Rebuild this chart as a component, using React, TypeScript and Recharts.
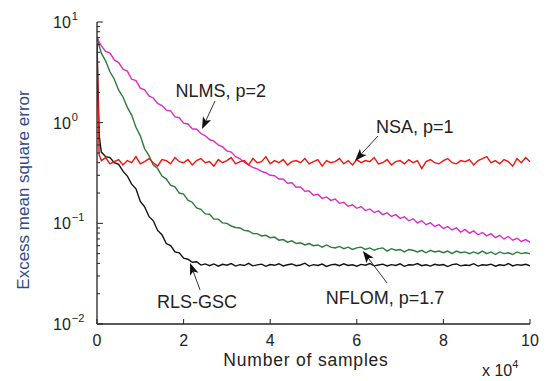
import React from 'react';
import { LineChart, Line, XAxis, YAxis, ReferenceLine, ReferenceDot } from 'recharts';

// x in units of 10^4 samples
const samples = [
  0, 0.05,
  0.1, 0.2, 0.3, 0.4, 0.5, 0.6, 0.7, 0.8, 0.9, 1,
  1.1, 1.2, 1.3, 1.4, 1.5, 1.6, 1.7, 1.8, 1.9, 2,
  2.1, 2.2, 2.3, 2.4, 2.5, 2.6, 2.7, 2.8, 2.9, 3,
  3.1, 3.2, 3.3, 3.4, 3.5, 3.6, 3.7, 3.8, 3.9, 4,
  4.1, 4.2, 4.3, 4.4, 4.5, 4.6, 4.7, 4.8, 4.9, 5,
  5.1, 5.2, 5.3, 5.4, 5.5, 5.6, 5.7, 5.8, 5.9, 6,
  6.1, 6.2, 6.3, 6.4, 6.5, 6.6, 6.7, 6.8, 6.9, 7,
  7.1, 7.2, 7.3, 7.4, 7.5, 7.6, 7.7, 7.8, 7.9, 8,
  8.1, 8.2, 8.3, 8.4, 8.5, 8.6, 8.7, 8.8, 8.9, 9,
  9.1, 9.2, 9.3, 9.4, 9.5, 9.6, 9.7, 9.8, 9.9, 10,
];

const nlms = [
  7.1, 6.3,
  5.8, 5.1, 4.9, 4.2, 3.95, 3.4, 3.25, 2.7, 2.62, 2.2,
  2.12, 1.84, 1.76, 1.55, 1.48, 1.33, 1.31, 1.14, 1.12, 0.99,
  0.97, 0.87, 0.86, 0.78, 0.74, 0.68, 0.655, 0.6, 0.575, 0.525,
  0.51, 0.46, 0.44, 0.405, 0.38, 0.36, 0.348, 0.328, 0.318, 0.3,
  0.297, 0.276, 0.276, 0.25, 0.253, 0.228, 0.23, 0.208, 0.21, 0.19,
  0.194, 0.177, 0.183, 0.169, 0.174, 0.158, 0.162, 0.148, 0.153, 0.141,
  0.147, 0.134, 0.139, 0.128, 0.133, 0.122, 0.127, 0.117, 0.122, 0.112,
  0.116, 0.106, 0.111, 0.101, 0.106, 0.097, 0.101, 0.093, 0.097, 0.089,
  0.093, 0.086, 0.09, 0.082, 0.087, 0.08, 0.084, 0.077, 0.081, 0.075,
  0.079, 0.072, 0.076, 0.07, 0.074, 0.068, 0.071, 0.066, 0.069, 0.065,
];

const nsa = [
  5.5, 0.48,
  0.42, 0.45, 0.39, 0.41, 0.43, 0.38, 0.42, 0.40, 0.46, 0.39,
  0.41, 0.44, 0.40, 0.37, 0.43, 0.42, 0.39, 0.45, 0.41, 0.40,
  0.43, 0.38, 0.42, 0.44, 0.40, 0.41, 0.37, 0.43, 0.40, 0.42,
  0.45, 0.39, 0.41, 0.42, 0.38, 0.44, 0.40, 0.41, 0.46, 0.39,
  0.42, 0.40, 0.43, 0.38, 0.41, 0.42, 0.40, 0.44, 0.39, 0.41,
  0.43, 0.37, 0.42, 0.40, 0.41, 0.44, 0.39, 0.42, 0.38, 0.43,
  0.40, 0.42, 0.41, 0.45, 0.39, 0.40, 0.43, 0.38, 0.41, 0.42,
  0.39, 0.43, 0.40, 0.42, 0.35, 0.41, 0.43, 0.40, 0.39, 0.42,
  0.44, 0.40, 0.39, 0.42, 0.41, 0.43, 0.38, 0.42, 0.44, 0.46,
  0.40, 0.42, 0.39, 0.43, 0.41, 0.37, 0.44, 0.40, 0.45, 0.41,
];

const nflom = [
  7.1, 5.8,
  4.9, 4.1, 3.2, 2.7, 2.1, 1.8, 1.42, 1.19, 0.9, 0.74,
  0.55, 0.47, 0.38, 0.35, 0.295, 0.275, 0.24, 0.23, 0.2, 0.195,
  0.17, 0.162, 0.142, 0.138, 0.124, 0.123, 0.11, 0.11, 0.101, 0.1,
  0.094, 0.091, 0.09, 0.085, 0.084, 0.079, 0.079, 0.075, 0.076, 0.072,
  0.073, 0.068, 0.069, 0.065, 0.067, 0.063, 0.064, 0.061, 0.063, 0.06,
  0.061, 0.058, 0.061, 0.058, 0.057, 0.059, 0.056, 0.058, 0.055, 0.057,
  0.058, 0.055, 0.057, 0.054, 0.056, 0.057, 0.053, 0.056, 0.054, 0.055,
  0.052, 0.055, 0.054, 0.052, 0.054, 0.051, 0.054, 0.052, 0.053, 0.051,
  0.053, 0.05, 0.053, 0.051, 0.052, 0.05, 0.052, 0.05, 0.053, 0.05,
  0.052, 0.049, 0.052, 0.05, 0.051, 0.049, 0.052, 0.05, 0.051, 0.05,
];

const rlsGsc = [
  6.0, 0.75,
  0.51, 0.46, 0.45, 0.4, 0.385, 0.33, 0.295, 0.245, 0.22, 0.165,
  0.146, 0.117, 0.106, 0.085, 0.077, 0.063, 0.06, 0.052, 0.051, 0.045,
  0.044, 0.041, 0.0415, 0.0385, 0.0395, 0.038, 0.0395, 0.0375, 0.0392, 0.0384,
  0.0398, 0.0376, 0.0389, 0.0381, 0.0401, 0.0378, 0.0387, 0.0393, 0.0374, 0.039,
  0.0383, 0.0397, 0.0377, 0.0388, 0.0395, 0.0379, 0.0386, 0.0402, 0.0376, 0.0389,
  0.0381, 0.0394, 0.0373, 0.0387, 0.0392, 0.0379, 0.0396, 0.0382, 0.0388, 0.0375,
  0.0391, 0.0384, 0.0399, 0.0378, 0.0386, 0.0393, 0.0377, 0.0389, 0.0382, 0.0396,
  0.0374, 0.0388, 0.0385, 0.0398, 0.0379, 0.0387, 0.0376, 0.0392, 0.0383, 0.039,
  0.0372, 0.0389, 0.0395, 0.0378, 0.0386, 0.0381, 0.0397, 0.0376, 0.0388, 0.0384,
  0.0393, 0.0375, 0.0387, 0.0381, 0.0399, 0.0377, 0.0389, 0.0383, 0.0392, 0.0379,
];

const xTicks = [0, 2, 4, 6, 8, 10];
const yTicks = [
  0.01, 0.02, 0.03, 0.04, 0.05, 0.06, 0.07, 0.08, 0.09,
  0.1, 0.2, 0.3, 0.4, 0.5, 0.6, 0.7, 0.8, 0.9,
  1, 2, 3, 4, 5, 6, 7, 8, 9,
  10,
];

// callout text anchor + arrow tail/tip, in data units
const callouts = [
  { label: 'NLMS, p=2', at: [2.86, 1.8], tail: [2.725, 1.642], tip: [2.425, 0.865] },
  { label: 'NSA, p=1', at: [7.34, 0.789], tail: [6.49, 0.737], tip: [5.96, 0.419] },
  { label: 'NFLOM, p=1.7', at: [6.65, 0.0157], tail: [6.7, 0.0255], tip: [6.14, 0.0531] },
  { label: 'RLS-GSC', at: [2.31, 0.0143], tail: [2.38, 0.0218], tip: [2.15, 0.0404] },
];

const FONT = '"Liberation Sans", Arial, Helvetica, sans-serif';
const AXIS = '#222';

const data = samples.map((s, i) => ({
  s,
  nlms: nlms[i],
  nsa: nsa[i],
  nflom: nflom[i],
  rls: rlsGsc[i],
}));

const isDecade = (v: number) => {
  const e = Math.round(Math.log10(v));
  return Math.abs(v / Math.pow(10, e) - 1) < 1e-6;
};

function LeftTick({ x, y, payload }: any) {
  const v = payload.value;
  const major = isDecade(v);
  const e = Math.round(Math.log10(v));
  return (
    <g>
      <line x1={x} x2={x + (major ? 6 : 3)} y1={y} y2={y} stroke={AXIS} strokeWidth={1} />
      {major && (
        <text x={x - 44} y={y + 6} fontSize={16} fontFamily={FONT} fill="#222">
          10
          <tspan dy={-8} dx={1} fontSize={11}>{e < 0 ? '\u2212' + -e : String(e)}</tspan>
        </text>
      )}
    </g>
  );
}

function RightTick({ x, y, payload }: any) {
  const major = isDecade(payload.value);
  return <line x1={x} x2={x - (major ? 6 : 3)} y1={y} y2={y} stroke={AXIS} strokeWidth={1} />;
}

function BottomTick({ x, y, payload }: any) {
  return (
    <g>
      <line x1={x} x2={x} y1={y} y2={y - 5} stroke={AXIS} strokeWidth={1} />
      <text x={x} y={y + 22} textAnchor="middle" fontSize={16} fontFamily={FONT} fill="#222">
        {payload.value}
      </text>
    </g>
  );
}

function TopTick({ x, y }: any) {
  return <line x1={x} x2={x} y1={y} y2={y + 5} stroke={AXIS} strokeWidth={1} />;
}

function Arrow({ x1, y1, x2, y2 }: any) {
  const dx = x2 - x1;
  const dy = y2 - y1;
  const L = Math.sqrt(dx * dx + dy * dy) || 1;
  const ux = dx / L;
  const uy = dy / L;
  const nx = -uy;
  const ny = ux;
  const len = 12;
  const w = 4.5;
  const bx = x2 - ux * len;
  const by = y2 - uy * len;
  const pts = [
    [x2, y2],
    [bx + nx * w, by + ny * w],
    [x2 - ux * (len - 3), y2 - uy * (len - 3)],
    [bx - nx * w, by - ny * w],
  ]
    .map((p) => p.join(','))
    .join(' ');
  return (
    <g>
      <line x1={x1} y1={y1} x2={x2 - ux * 6} y2={y2 - uy * 6} stroke="#333" strokeWidth={1} />
      <polygon points={pts} fill="#111" />
    </g>
  );
}

function YTitle() {
  return (
    <text
      x={15}
      y={182}
      transform="rotate(-90, 15, 182)"
      textAnchor="middle"
      dominantBaseline="central"
      fontSize={17}
      fontFamily={FONT}
      fill="#2f4a8a"
    >
      Excess mean square error
    </text>
  );
}

function XTitle() {
  return (
    <g fontFamily={FONT} fill="#222">
      <text x={298} y={358} textAnchor="middle" fontSize={17.5} letterSpacing={0.8}>
        Number of samples
      </text>
      <text x={474} y={368} fontSize={16}>
        x 10
        <tspan dy={-8} fontSize={11}>4</tspan>
      </text>
    </g>
  );
}

export default function App() {
  return (
    <div style={{ width: 540, height: 373, background: '#fff' }}>
      <LineChart
        width={540}
        height={373}
        data={data}
        margin={{ top: 14, right: 18, bottom: 0, left: 0 }}
      >
        <XAxis
          dataKey="s"
          type="number"
          domain={[0, 10]}
          ticks={xTicks}
          interval={0}
          allowDataOverflow
          height={57}
          tickSize={0}
          tickMargin={0}
          tick={<BottomTick />}
          axisLine={{ stroke: AXIS, strokeWidth: 1.3 }}
          label={<XTitle />}
        />
        <XAxis
          xAxisId="top"
          orientation="top"
          type="number"
          domain={[0, 10]}
          ticks={xTicks}
          interval={0}
          allowDataOverflow
          height={0}
          tickSize={0}
          tickMargin={0}
          tick={<TopTick />}
          axisLine={{ stroke: AXIS, strokeWidth: 1.3 }}
        />
        <YAxis
          scale="log"
          type="number"
          domain={[0.01, 10]}
          ticks={yTicks}
          interval={0}
          allowDataOverflow
          width={89}
          tickSize={0}
          tickMargin={0}
          tick={<LeftTick />}
          axisLine={{ stroke: AXIS, strokeWidth: 1.3 }}
          label={<YTitle />}
        />
        <YAxis
          yAxisId="right"
          orientation="right"
          scale="log"
          type="number"
          domain={[0.01, 10]}
          ticks={yTicks}
          interval={0}
          allowDataOverflow
          width={0}
          tickSize={0}
          tickMargin={0}
          tick={<RightTick />}
          axisLine={{ stroke: AXIS, strokeWidth: 1.3 }}
        />
        <Line dataKey="rls" stroke="#111111" strokeWidth={1.4} dot={false} isAnimationActive={false} />
        <Line dataKey="nflom" stroke="#2a7a3c" strokeWidth={1.4} dot={false} isAnimationActive={false} />
        <Line dataKey="nlms" stroke="#e02ac4" strokeWidth={1.4} dot={false} isAnimationActive={false} />
        <Line dataKey="nsa" stroke="#f0140f" strokeWidth={1.4} dot={false} isAnimationActive={false} />
        {callouts.map((c) => (
          <ReferenceLine
            key={'arrow-' + c.label}
            segment={[
              { x: c.tail[0], y: c.tail[1] },
              { x: c.tip[0], y: c.tip[1] },
            ]}
            shape={(p: any) => <Arrow {...p} />}
          />
        ))}
        {callouts.map((c) => (
          <ReferenceDot
            key={'text-' + c.label}
            x={c.at[0]}
            y={c.at[1]}
            r={1}
            shape={(p: any) => (
              <text x={p.cx} y={p.cy} textAnchor="middle" fontSize={18} fontFamily={FONT} fill="#222">
                {c.label}
              </text>
            )}
          />
        ))}
      </LineChart>
    </div>
  );
}
